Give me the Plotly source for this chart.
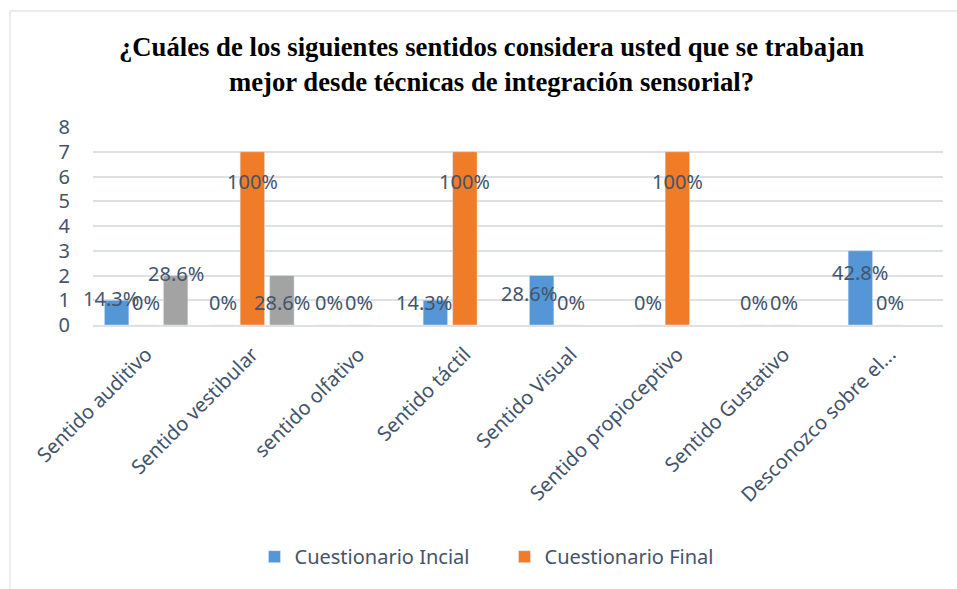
import plotly.graph_objects as go

categories = ["Sentido auditivo", "Sentido vestibular", "sentido olfativo", "Sentido táctil",
              "Sentido Visual", "Sentido propioceptivo", "Sentido Gustativo", "Desconozco sobre el..."]
inicial = [1, 0, 0, 1, 2, 0, 0, 3]
final = [0, 7, 0, 7, 0, 7, 0, 0]
extra = [2, 2, None, None, None, None, None, None]
inicial_labels = ["14.3%", "0%", "0%", "14.3%", "28.6%", "0%", "0%", "42.8%"]
final_labels = ["0%", "100%", "0%", "100%", "0%", "100%", "0%", "0%"]
extra_labels = ["28.6%", "28.6%", None, None, None, None, None, None]

TXT = "#44546A"
FONT = "Noto Sans"

fig = go.Figure()
fig.add_trace(go.Bar(x=categories, y=inicial, name="Cuestionario Incial", marker_color="#5596D6"))
fig.add_trace(go.Bar(x=categories, y=final, name="Cuestionario Final", marker_color="#F07C28"))
fig.add_trace(go.Bar(x=categories, y=extra, name="", marker_color="#A3A3A3", showlegend=False))

# label placement (layout only): data-unit height of label centre and horizontal nudge in px
slot = 29.5
def label_y(v):
    if v >= 7:
        return v - 1.22
    return 0.92

place_inicial = {0: (1.09, -6), 4: (1.28, -13), 7: (2.13, 0), 3: (0.92, -11)}
place_extra = {0: (2.1, 0), 1: (0.92, 0)}

for series, labels, offset, overrides in [
    (inicial, inicial_labels, -slot, place_inicial),
    (final, final_labels, 0, {}),
    (extra, extra_labels, slot, place_extra),
]:
    for i, (v, lab) in enumerate(zip(series, labels)):
        if lab is None:
            continue
        y, nudge = overrides.get(i, (label_y(v), 0))
        fig.add_annotation(x=categories[i], y=y, text=lab, showarrow=False,
                           xshift=offset + nudge, yanchor="middle", xanchor="center",
                           font=dict(family=FONT, size=20, color=TXT))

fig.add_annotation(xref="paper", yref="paper", x=0.469, y=1.318,
                   text="<b>¿Cuáles de los siguientes sentidos considera usted que se trabajan<br>mejor desde técnicas de integración sensorial?</b>",
                   showarrow=False, xanchor="center", yanchor="middle",
                   font=dict(family="Liberation Serif", size=26.7, color="#000000"))

fig.add_shape(type="rect", xref="paper", yref="paper", x0=-0.0976, x1=1.03, y0=-1.5, y1=1.586,
              line=dict(color="#D9D9D9", width=1), fillcolor="rgba(0,0,0,0)", layer="below")

fig.update_layout(
    width=957, height=589,
    margin=dict(l=93, r=14, t=127, b=264, autoexpand=False),
    paper_bgcolor="white", plot_bgcolor="white",
    barmode="group", bargap=0.167, bargroupgap=0.17,
    showlegend=True,
    legend=dict(orientation="h", x=0.19, y=-1.17, xanchor="left", yanchor="middle",
                entrywidth=205, entrywidthmode="pixels",
                font=dict(family=FONT, size=20, color=TXT), itemwidth=30, traceorder="normal"),
    font=dict(family=FONT, color=TXT),
)
fig.update_yaxes(range=[0, 8], dtick=1, showgrid=True, gridcolor="#DDE1E6", gridwidth=1.5,
                 zeroline=False, showline=False, ticklabelstandoff=22, automargin=False,
                 tickfont=dict(family=FONT, size=20, color=TXT))
fig.update_xaxes(range=[-0.5, 7.5], tickangle=-45, showline=True, linecolor="#DDE1E6", linewidth=1.5,
                 automargin=False, tickfont=dict(family=FONT, size=20, color=TXT), ticklabelstandoff=8)

fig.write_html("out.html", config={"displayModeBar": False},
               post_script="document.body.style.margin='0px';")
